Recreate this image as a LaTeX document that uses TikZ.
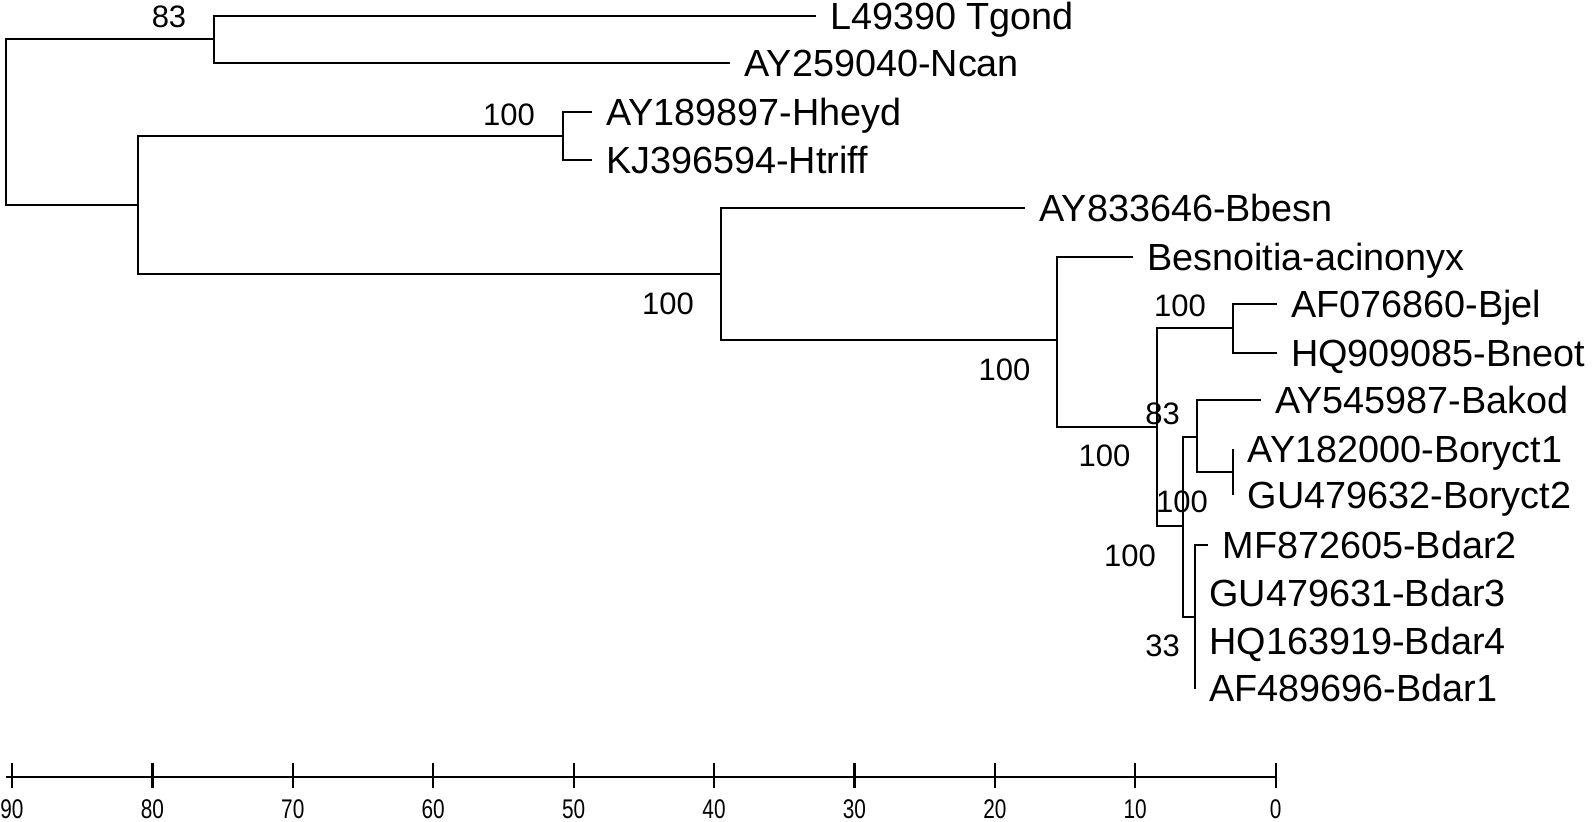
\documentclass[tikz,border=0pt]{standalone}
\usepackage{fontspec}
\setmainfont{Liberation Sans}
\usepackage{graphicx}
\begin{document}
\begin{tikzpicture}[x=0.5pt,y=-0.5pt,
  branch/.style={line width=1pt},
  axisline/.style={line width=1.1pt},
  leaf/.style={anchor=base west, inner sep=0pt, xshift=7pt, yshift=-6.7pt, font=\fontsize{18.9}{21}\selectfont},
  boot/.style={inner sep=0pt, font=\fontsize{15.5}{17}\selectfont},
  scalelab/.style={anchor=base, inner sep=0pt, font=\fontsize{13.5}{15}\selectfont}]
\useasboundingbox (0,0) rectangle (1594,822);

% internal nodes
\coordinate (root) at (6,121.5);
\coordinate (nTG) at (214,39.5);
\coordinate (nA) at (138,205);
\coordinate (nHH) at (562.7,136);
\coordinate (nB) at (721,274);
\coordinate (nC) at (1057.3,340.5);
\coordinate (nD) at (1157,427);
\coordinate (nJ) at (1233.3,328.3);
\coordinate (nE) at (1183.3,526.5);
\coordinate (nK) at (1197.3,436.7);
\coordinate (nO) at (1233.3,472.5);
\coordinate (nF) at (1195,616.7);

% leaf tips
\coordinate (tTgond) at (815.7,16);
\coordinate (tNcan) at (730,63.5);
\coordinate (tHheyd) at (591.7,112);
\coordinate (tHtriff) at (591.7,160.5);
\coordinate (tBbesn) at (1025,208.5);
\coordinate (tBacin) at (1132.7,256.7);
\coordinate (tBjel) at (1276.7,304.5);
\coordinate (tBneot) at (1276.7,352.7);
\coordinate (tBakod) at (1260.7,400);
\coordinate (tBor1) at (1233.3,449.3);
\coordinate (tBor2) at (1233.3,495.5);
\coordinate (tBdar2) at (1208.3,545);
\coordinate (tBdar3) at (1195,593);
\coordinate (tBdar4) at (1195,641);
\coordinate (tBdar1) at (1195,688.5);

% branches
\draw[branch] (root) |- (nTG);
\draw[branch] (root) |- (nA);
\draw[branch] (nTG) |- (tTgond);
\draw[branch] (nTG) |- (tNcan);
\draw[branch] (nA) |- (nHH);
\draw[branch] (nA) |- (nB);
\draw[branch] (nHH) |- (tHheyd);
\draw[branch] (nHH) |- (tHtriff);
\draw[branch] (nB) |- (tBbesn);
\draw[branch] (nB) |- (nC);
\draw[branch] (nC) |- (tBacin);
\draw[branch] (nC) |- (nD);
\draw[branch] (nD) |- (nJ);
\draw[branch] (nD) |- (nE);
\draw[branch] (nJ) |- (tBjel);
\draw[branch] (nJ) |- (tBneot);
\draw[branch] (nE) |- (nK);
\draw[branch] (nE) |- (nF);
\draw[branch] (nK) |- (tBakod);
\draw[branch] (nK) |- (nO);
\draw[branch] (nO) -- (tBor1);
\draw[branch] (nO) -- (tBor2);
\draw[branch] (nF) |- (tBdar2);
\draw[branch] (nF) -- (tBdar3);
\draw[branch] (nF) -- (tBdar4);
\draw[branch] (nF) -- (tBdar1);

% leaf labels
\node[leaf] (lTgond) at (tTgond) {L49390 Tgond};
\node[leaf] (lNcan) at (tNcan) {AY259040-Ncan};
\node[leaf] (lHheyd) at (tHheyd) {AY189897-Hheyd};
\node[leaf] (lHtriff) at (tHtriff) {KJ396594-Htriff};
\node[leaf] (lBbesn) at (tBbesn) {AY833646-Bbesn};
\node[leaf] (lBacin) at (tBacin) {Besnoitia-acinonyx};
\node[leaf] (lBjel) at (tBjel) {AF076860-Bjel};
\node[leaf] (lBneot) at (tBneot) {HQ909085-Bneot};
\node[leaf] (lBakod) at (tBakod) {AY545987-Bakod};
\node[leaf] (lBor1) at (tBor1) {AY182000-Boryct1};
\node[leaf] (lBor2) at (tBor2) {GU479632-Boryct2};
\node[leaf] (lBdar2) at (tBdar2) {MF872605-Bdar2};
\node[leaf] (lBdar3) at (tBdar3) {GU479631-Bdar3};
\node[leaf] (lBdar4) at (tBdar4) {HQ163919-Bdar4};
\node[leaf] (lBdar1) at (tBdar1) {AF489696-Bdar1};

% bootstrap values
\node[boot] (b1) at (169,17) {83};
\node[boot] (b2) at (509,114.5) {100};
\node[boot] (b3) at (668,304) {100};
\node[boot] (b4) at (1004.5,370) {100};
\node[boot] (b5) at (1180,305.5) {100};
\node[boot] (b6) at (1162.5,414) {83};
\node[boot] (b7) at (1104.5,455.7) {100};
\node[boot] (b8) at (1182,501.7) {100};
\node[boot] (b9) at (1130,555.5) {100};
\node[boot] (b10) at (1162.6,646) {33};

% scale bar
\coordinate (ax0) at (5.5,777);
\coordinate (ax1) at (1276,777);
\draw[axisline] (ax0) -- (ax1);
\foreach \k/\lab in {0/90,1/80,2/70,3/60,4/50,5/40,6/30,7/20,8/10,9/0} {
  \coordinate (tk\k) at ({12+140.4*\k},777);
  \draw[axisline] ([yshift=7pt]tk\k) -- ([yshift=-5.5pt]tk\k);
  \node[scalelab] (sl\k) at ({12+140.4*\k},818.5) {\scalebox{0.77}[1]{\lab}};
}
\end{tikzpicture}
\end{document}
